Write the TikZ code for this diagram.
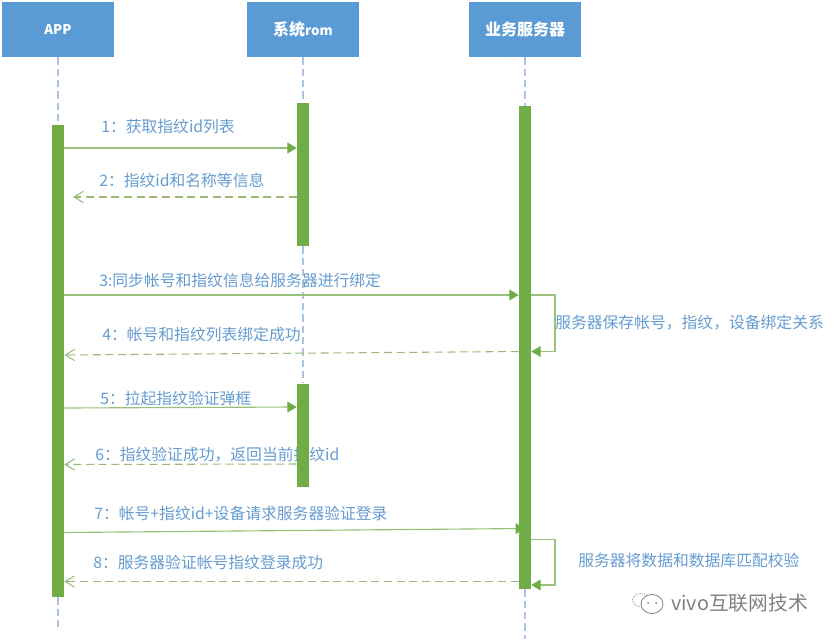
\documentclass[tikz,border=0pt]{standalone}
\usepackage{fontspec}
\setmainfont{Noto Sans CJK SC}
\usetikzlibrary{arrows.meta}
\definecolor{boxblue}{HTML}{5B9BD5}
\definecolor{barGreen}{HTML}{70AD47}
\definecolor{msgGreen}{HTML}{97C17A}
\definecolor{replyGreen}{HTML}{9DB87A}
\definecolor{lifeBlue}{HTML}{A9C4E4}
\definecolor{labelBlue}{HTML}{659CCF}
\definecolor{markGray}{HTML}{808080}
\tikzset{
  x=0.75pt,y=-0.75pt,
  header/.style={fill=boxblue,text=white,font=\bfseries\fontsize{12}{14}\selectfont,minimum width=84pt,minimum height=41.25pt,inner sep=0pt},
  lifeline/.style={lifeBlue,line width=1pt,dash pattern=on 5.5pt off 3pt},
  bar/.style={fill=barGreen,minimum width=9pt,inner sep=0pt},
  msg/.style={anchor=west,text=labelBlue,inner sep=0pt,font=\fontsize{11.85}{14}\selectfont},
  call/.style={msgGreen,line width=.85pt,-{Triangle[length=7pt,width=8pt,fill=barGreen,color=barGreen]}},
  reply/.style={replyGreen,line width=.8pt,dash pattern=on 6pt off 3.5pt,-{Straight Barb[length=7pt,width=8.5pt,color=msgGreen]}},
  markline/.style={markGray,line width=.6pt}
}
\newcommand{\smallLatin}[1]{{\fontsize{10}{14}\selectfont #1}}
\begin{document}
\begin{tikzpicture}
\useasboundingbox (0,0) rectangle (834,639);
% headers
\node[header] (app) at (58,29.5) {\smallLatin{APP}};
\node[header] (rom) at (303,29.5) {系统\smallLatin{rom}};
\node[header] (srv) at (525,29.5) {业务服务器};
% end points of the lifelines
\coordinate (append) at (58,627);
\coordinate (srvend) at (525,639);
% bars (geometry only; drawn after the labels)
\path
  node[bar,minimum height=354pt,fill=none] (appbar) at (58,361) {}
  node[bar,minimum height=107.6pt,fill=none] (rombarA) at (303,174.25) {}
  node[bar,minimum height=77.6pt,fill=none] (rombarB) at (303,435.25) {}
  node[bar,minimum height=362.25pt,fill=none] (srvbar) at (525,347.5) {};
% lifelines
\draw[lifeline] (app.south) -- (appbar.north);
\draw[lifeline] (appbar.south) -- (append);
\draw[lifeline] (rom.south) -- (rombarA.north);
\draw[lifeline] (rombarA.south) -- (rombarB.north);
\draw[lifeline] (srv.south) -- (srvbar.north);
\draw[lifeline] (srvbar.south) -- (srvend);
% labels
\node[msg] (l1) at (101,127) {1：获取指纹id列表};
\node[msg] (l2) at (99,180) {2：指纹id和名称等信息};
\node[msg] (l3) at (99,280) {3:同步帐号和指纹信息给服务器进行绑定};
\node[msg] (l4) at (102,334) {4：帐号和指纹列表绑定成功};
\node[msg] (l5) at (100,398) {5：拉起指纹验证弹框};
\node[msg] (l6) at (95,455) {6：指纹验证成功，返回当前指纹id};
\node[msg] (l7) at (94,513) {7：帐号+指纹id+设备请求服务器验证登录};
\node[msg] (l8) at (93,562) {8：服务器验证帐号指纹登录成功};
\node[msg] (s1) at (555,323) {服务器保存帐号，指纹，设备绑定关系};
\node[msg] (s2) at (578,560) {服务器将数据和数据库匹配校验};
% bars
\node[bar,minimum height=354pt] at (appbar) {};
\node[bar,minimum height=107.6pt] at (rombarA) {};
\node[bar,minimum height=77.6pt] at (rombarB) {};
\node[bar,minimum height=362.25pt] at (srvbar) {};
% messages
\draw[call] (appbar.east |- 0,148) -- (rombarA.west |- 0,148);
\draw[reply] (rombarA.west |- 0,197) -- (73,197);
\draw[call] (appbar.east |- 0,295) -- (srvbar.west |- 0,295);
\draw[call] (srvbar.east |- 0,295) -- (555,295) -- (555,351.5) -- (srvbar.east |- 0,351.5);
\draw[reply] (srvbar.west |- 0,351.5) -- (appbar.east |- 0,355);
\draw[call] (appbar.east |- 0,408) -- (rombarB.west |- 0,407);
\draw[reply] (rombarB.west |- 0,464) -- (appbar.east |- 0,464.5);
\draw[call] (appbar.east |- 0,532.5) -- (525,528.5);
\draw[reply] (srvbar.west |- 0,581.5) -- (appbar.east |- 0,581.5);
\draw[call] (srvbar.east |- 0,539.5) -- (555,539.5) -- (555,585) -- (srvbar.east |- 0,585);
% watermark
\draw[markline,densely dotted] (641,600) ellipse [x radius=8.5,y radius=6.5];
\draw[markline,fill=white] (652,604) ellipse [x radius=11,y radius=9.5];
\fill[markGray] (648,603) circle[radius=1] (656,603) circle[radius=1];
\node[msg,text=markGray,font=\fontsize{14.8}{16}\selectfont] (wm) at (671,603) {vivo互联网技术};
\end{tikzpicture}
\end{document}
